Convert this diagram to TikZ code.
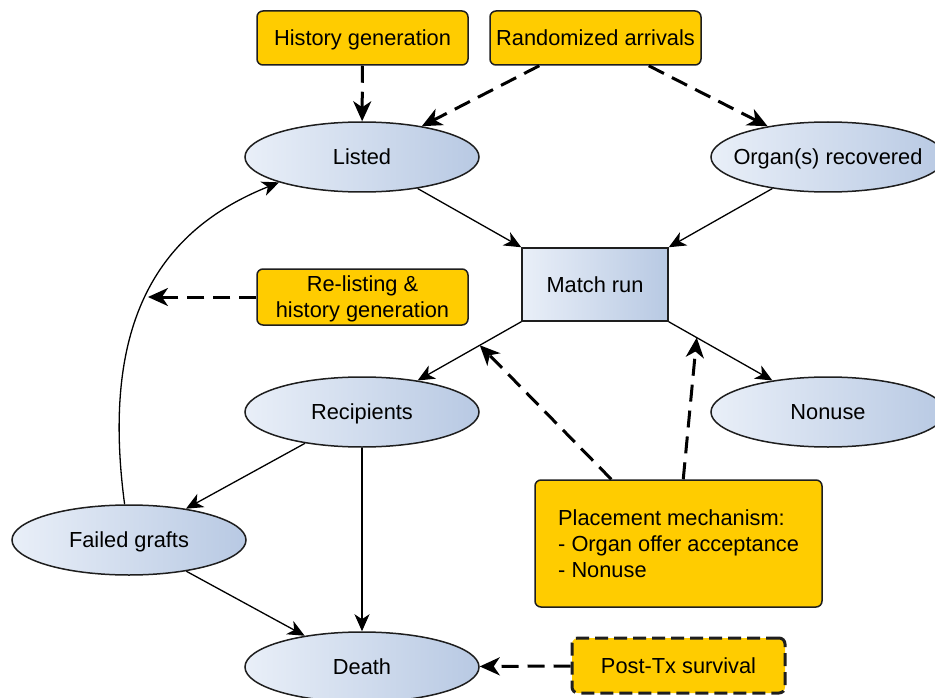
\documentclass[tikz,border=0pt]{standalone}
\usepackage{fontspec}
\setmainfont{Liberation Sans}
\usetikzlibrary{shapes.geometric,arrows.meta,calc}
\definecolor{ygold}{RGB}{255,204,0}
\definecolor{bluel}{RGB}{233,239,248}
\definecolor{blued}{RGB}{184,201,227}
\definecolor{edgec}{RGB}{30,30,30}

\begin{document}
\begin{tikzpicture}[x=1pt,y=-1pt,
  font=\fontsize{21.8}{26}\selectfont,
  every node/.style={text depth=0pt},
  ybox/.style={draw=edgec, line width=1.5pt, fill=ygold, rounded corners=6pt,
    align=center, inner sep=0pt},
  ell/.style={ellipse, draw=edgec, line width=1.5pt, left color=bluel, right color=blued,
    minimum width=234pt, minimum height=70pt, inner sep=0pt},
  mrun/.style={rectangle, draw=edgec, line width=1.5pt, left color=bluel, right color=blued,
    minimum width=146pt, minimum height=73pt, inner sep=0pt},
  arr/.style={-{Stealth[length=17pt,width=15pt,inset=5pt]}, line width=1.3pt},
  darr/.style={-{Stealth[length=20pt,width=18pt,inset=6pt]}, line width=3pt,
    dash pattern=on 17pt off 9pt},
]
\useasboundingbox (0,0) rectangle (935,698);

% inputs
\node[ybox, minimum width=211pt, minimum height=54pt] (hist) at (362.5,38) {History generation};
\node[ybox, minimum width=211pt, minimum height=54pt] (rand) at (595.5,38) {Randomized arrivals};

% states
\node[ell] (listed) at (362,157) {Listed};
\node[ell] (organ) at (828,157) {};
\node (organtxt) at (organ.center) {Organ(s) recovered};
\node[mrun] (match) at (595,284.5) {Match run};
\node[ybox, minimum width=211pt, minimum height=56pt] (relist) at (362.5,297) {Re-listing \&\\history generation};
\node[ell] (rec) at (362,412) {Recipients};
\node[ell] (nonuse) at (828,412) {Nonuse};
\node[ell] (fg) at (129,540) {Failed grafts};
\node[ell] (death) at (362,667) {Death};

% placement mechanism
\node[ybox, minimum width=287pt, minimum height=127pt] (place) at (678.5,543.5) {};
\node[anchor=west, align=left, inner sep=0pt] (placetxt) at (558,543.5)
  {Placement mechanism:\\- Organ offer acceptance\\- Nonuse};

\node[ybox, line width=3pt, dash pattern=on 13pt off 6pt, minimum width=213pt,
  minimum height=55pt] (post) at (678.5,665.5) {Post-Tx survival};

% flows
\draw[darr] (hist) -- (listed);
\draw[darr] ($(rand.south west)+(50,0)$) -- (listed);
\draw[darr] ($(rand.south east)+(-53,0)$) -- (organ);
\draw[arr] (listed) -- (match.north west);
\draw[arr] (organ) -- (match.north east);
\draw[arr] (match.south west) -- coordinate[pos=0.4] (onrec) (rec);
\draw[arr] (match.south east) -- coordinate[pos=0.27] (onnon) (nonuse);
\draw[arr] (rec) -- (fg);
\draw[arr] (rec) -- (death);
\draw[arr] (fg) -- (death);
\draw[arr] (fg.97) .. controls (100,320) and (160,230) .. coordinate[pos=0.5] (relink) (listed.197);

\draw[darr] (relist.west) -- (relist.west -| relink);
\draw[darr] ($(place.north west)+(77,0)$) -- (onrec);
\draw[darr] ($(place.north west)+(149,0)$) -- (onnon);
\draw[darr] (post) -- (death);
\end{tikzpicture}
\end{document}
